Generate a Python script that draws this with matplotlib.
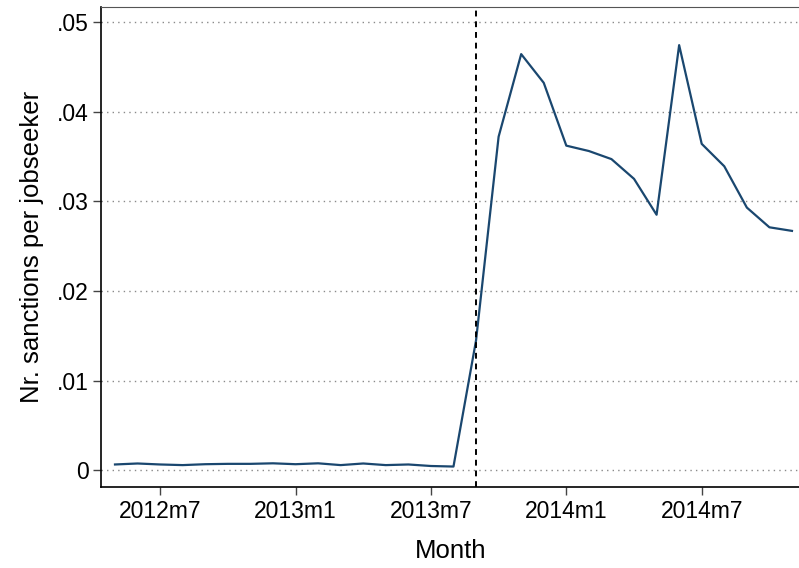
import numpy as np
import matplotlib
matplotlib.use("Agg")
import matplotlib.pyplot as plt

plt.rcParams["font.family"] = ["Liberation Sans", "DejaVu Sans"]

# monthly series 2012m5 .. 2014m11
months = ["2012m5", "2012m6", "2012m7", "2012m8", "2012m9", "2012m10", "2012m11", "2012m12",
          "2013m1", "2013m2", "2013m3", "2013m4", "2013m5", "2013m6", "2013m7", "2013m8",
          "2013m9", "2013m10", "2013m11", "2013m12", "2014m1", "2014m2", "2014m3", "2014m4",
          "2014m5", "2014m6", "2014m7", "2014m8", "2014m9", "2014m10", "2014m11"]
sanctions = [0.00067, 0.00078, 0.00067, 0.00060, 0.00070, 0.00074, 0.00074, 0.00080,
             0.00070, 0.00080, 0.00060, 0.00078, 0.00060, 0.00067, 0.00050, 0.00044,
             0.0145, 0.0372, 0.0464, 0.0432, 0.0362, 0.0356, 0.0347, 0.0325,
             0.0285, 0.0474, 0.0364, 0.0339, 0.0293, 0.0271, 0.0267]
tick_labels = ["2012m7", "2013m1", "2013m7", "2014m1", "2014m7"]
reform_month = "2013m9"
yticks = [0, 0.01, 0.02, 0.03, 0.04, 0.05]
ytick_labels = ["0", ".01", ".02", ".03", ".04", ".05"]

x = np.arange(len(months))

fig = plt.figure(figsize=(7.99, 5.68), dpi=100)
ax = fig.add_axes([101 / 799, 81 / 568, 700 / 799, 480 / 568])

for y in yticks:
    ax.axhline(y, color="#8a8a8a", linestyle=(0, (1, 3)), linewidth=1.0, zorder=1)

ax.plot(x, sanctions, color="#1a476f", linewidth=1.6, zorder=3)
ax.axvline(months.index(reform_month), color="black", linestyle=(0, (3, 2.5)),
           linewidth=1.4, zorder=4)

ax.set_xlim(-0.62, 30.4)
ax.set_ylim(-0.00184, 0.05165)

ax.set_xticks([months.index(m) for m in tick_labels])
ax.set_xticklabels(tick_labels)
ax.set_yticks(yticks)
ax.set_yticklabels(ytick_labels)
ax.tick_params(axis="both", labelsize=16.5, length=6, width=1, color="#444444", pad=3)

ax.set_xlabel("Month", fontsize=18.5, labelpad=12)
ax.set_ylabel("Nr. sanctions per jobseeker", fontsize=18.5, labelpad=9)

ax.spines["right"].set_visible(False)
ax.spines["top"].set_color("#555555")
for s in ["left", "bottom"]:
    ax.spines[s].set_linewidth(1.2)

fig.savefig("out.png", dpi=100)
